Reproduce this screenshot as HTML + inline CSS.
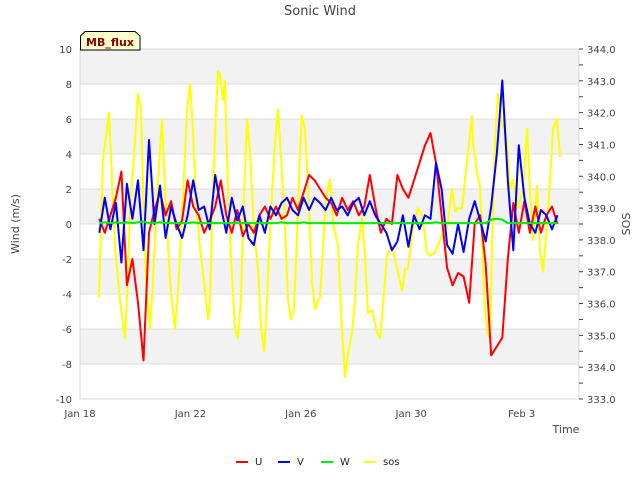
<!DOCTYPE html>
<html><head><meta charset="utf-8"><style>
html,body{margin:0;padding:0;background:#fff;}
svg{display:block;font-family:"DejaVu Sans","Liberation Sans",sans-serif;}
</style></head><body>
<svg id="chart" width="640" height="480" viewBox="0 0 640 480">
<g id="bands"></g>
<g id="grid"></g>
<g id="series"></g>
<g id="axes"></g>
<text x="320" y="15" text-anchor="middle" font-size="13" fill="#444">Sonic Wind</text>
<text transform="translate(19,224) rotate(-90)" text-anchor="middle" font-size="11" fill="#444">Wind (m/s)</text>
<text transform="translate(630,224) rotate(-90)" text-anchor="middle" font-size="11" fill="#444">SOS</text>
<text x="566" y="433" text-anchor="middle" font-size="11" fill="#444">Time</text>
<g>
<path d="M80.5,50 L80.5,36 L85,31.5 L135,31.5 L140,36 L140,50 Z" fill="#ffffcc" stroke="#000" stroke-width="1"/>
<text x="110" y="46" text-anchor="middle" font-size="11" font-weight="bold" fill="#8b0000">MB_flux</text>
</g>
<g id="legend"></g>
</svg>
<script>
// ---- data ----
const uvStart = 0.7;   // days since Jan 18
const uvStep = 0.2;
const uValues = [0.3,-0.5,0.5,1.5,3.0,-3.5,-2.0,-4.5,-7.8,-0.5,0.8,1.8,0.5,1.3,-0.3,0.2,2.5,1.0,0.5,-0.5,0.2,1.0,2.5,0.5,-0.5,0.8,-0.7,0.0,-0.5,0.5,1.0,0.3,1.0,0.3,0.5,1.5,0.8,1.8,2.8,2.5,2.0,1.5,1.2,0.5,1.5,0.8,1.3,0.5,1.0,2.8,1.0,-0.5,0.3,0.0,2.8,2.0,1.5,2.5,3.5,4.5,5.2,3.5,0.5,-2.5,-3.5,-2.8,-3.0,-4.5,0.0,0.5,-2.3,-7.5,-7.0,-6.5,-2.0,1.2,-0.5,1.3,-0.5,1.0,-0.5,0.5,1.0,0.0];
const vValues = [-0.5,1.5,-0.3,1.2,-2.2,2.3,0.3,2.5,-1.5,4.8,0.0,2.2,-0.8,1.0,0.0,-0.8,0.5,2.5,0.8,1.0,-0.3,2.8,1.0,-0.5,1.5,0.2,1.0,-0.8,-1.2,0.5,-0.5,1.0,0.5,1.2,1.5,0.8,0.5,1.5,0.8,1.5,1.2,0.8,1.5,0.8,1.0,0.5,1.2,1.5,0.5,1.3,0.5,0.0,-0.5,-1.5,-1.0,0.5,-1.3,0.5,-0.3,0.5,0.3,3.5,2.0,-1.2,-1.7,0.0,-1.6,0.3,1.3,0.2,-1.0,1.0,4.0,8.2,2.5,-1.5,4.5,1.5,0.0,-0.5,0.8,0.5,-0.3,0.5];
const wValues = [0.05,0.1,0.05,0.1,0.05,0.1,0.05,0.1,0.15,0.05,0.05,0.1,0.05,0.05,0.05,0.05,0.05,0.1,0.05,0.05,0.05,0.05,0.05,0.05,0.05,0.05,0.05,0.05,0.05,0.05,0.05,0.05,0.05,0.1,0.05,0.05,0.05,0.1,0.05,0.05,0.05,0.05,0.05,0.05,0.05,0.05,0.05,0.05,0.05,0.05,0.05,0.05,0.05,0.05,0.05,0.05,0.05,0.05,0.05,0.05,0.05,0.1,0.05,0.05,0.05,0.05,0.05,0.05,0.05,0.05,0.05,0.25,0.3,0.25,0.05,0.05,0.05,0.05,0.05,0.05,0.05,0.05,0.05,0.05];
const sosTimes = [0.69,0.83,1.05,1.16,1.27,1.45,1.63,1.70,1.81,1.99,2.10,2.21,2.28,2.39,2.54,2.64,2.79,2.97,3.08,3.26,3.44,3.55,3.73,3.88,3.99,4.09,4.20,4.35,4.53,4.64,4.71,4.82,4.93,5.00,5.07,5.18,5.25,5.36,5.47,5.62,5.72,5.83,5.94,6.05,6.16,6.30,6.45,6.56,6.67,6.78,6.88,7.07,7.17,7.25,7.43,7.54,7.64,7.75,7.86,7.97,8.04,8.15,8.26,8.41,8.51,8.62,8.70,8.80,8.91,9.06,9.17,9.35,9.49,9.60,9.71,9.86,9.96,10.07,10.22,10.33,10.43,10.58,10.76,10.87,10.98,11.12,11.30,11.49,11.67,11.78,11.88,12.07,12.25,12.39,12.57,12.68,12.86,13.04,13.15,13.30,13.48,13.59,13.70,13.84,13.95,14.06,14.20,14.24,14.38,14.49,14.57,14.60,14.67,14.75,14.86,14.93,15.04,15.14,15.29,15.47,15.58,15.69,15.87,16.05,16.20,16.30,16.41,16.56,16.67,16.78,16.92,17.03,17.14,17.28,17.39];
const sosValues = [336.2,340.5,342.0,339.9,337.7,336.1,334.9,336.1,338.9,341.1,342.6,342.1,339.9,336.7,335.2,336.7,339.3,341.8,339.6,336.7,335.2,336.4,339.3,342.1,342.9,341.5,339.3,337.7,336.4,335.5,336.1,339.6,342.1,343.3,343.2,342.4,343.0,339.6,337.4,335.2,334.9,336.1,339.3,341.8,340.8,338.3,337.1,335.2,334.5,336.1,338.3,341.1,342.1,341.1,338.3,336.1,335.5,335.8,338.0,340.8,341.9,341.5,339.6,336.7,335.8,336.1,336.2,337.7,339.3,339.9,338.5,337.8,335.2,333.7,334.4,335.1,336.1,337.8,338.7,337.5,335.7,335.8,335.1,334.9,335.9,337.5,337.8,337.1,336.4,337.1,337.1,338.4,339.0,338.8,337.6,337.5,337.6,338.0,338.2,338.4,339.6,338.9,339.0,339.0,339.9,340.8,341.9,341.1,340.1,339.7,338.0,337.1,335.9,335.1,334.9,338.0,341.1,342.6,341.7,341.1,339.6,339.9,339.0,339.6,341.5,339.6,338.0,339.7,337.6,337.0,338.5,339.9,341.5,341.8,340.6,339.3];
const leftTicks = [10,8,6,4,2,0,-2,-4,-6,-8,-10];
const rightTicks = [344,343,342,341,340,339,338,337,336,335,334,333];
const xTickDays = [0,4,8,12,16];
const xTickLabels = ["Jan 18","Jan 22","Jan 26","Jan 30","Feb 3"];
const legendNames = ["U","V","W","sos"];
const legendColors = ["#ff0000","#0000ff","#00ee00","#ffff00"];

// ---- scales ----
const PL=80, PR=579, PT=49, PB=399;
const xs = d => PL + d*27.6;
const yl = v => PT + (10 - v)/20*(PB-PT);
const yr = v => PB - (v-333)/11*(PB-PT);
const NS="http://www.w3.org/2000/svg";
function mk(tag, attrs, parent){const e=document.createElementNS(NS,tag);for(const k in attrs)e.setAttribute(k,attrs[k]);parent.appendChild(e);return e;}

const bands=document.getElementById('bands');
const rb=mk('rect',{x:PL,y:PT,width:PR-PL,height:PB-PT,fill:'#fff'},bands);


for(let v=10; v>-10; v-=4){
  const r=mk('rect',{x:PL,y:yl(v),width:PR-PL,height:yl(v-2)-yl(v),fill:'#f2f2f2'},bands);
  
  
}
const grid=document.getElementById('grid');
const axes=document.getElementById('axes');
leftTicks.forEach(v=>{
  const l=mk('line',{x1:PL,x2:PR,y1:yl(v),y2:yl(v),stroke:'#dcdcdc','stroke-width':1},grid);
  
  
  const t=mk('text',{x:72,y:yl(v)+4,'text-anchor':'end','font-size':10,fill:'#444'},axes);
  t.textContent=String(v);
  
  
});
const br=mk('rect',{x:PL,y:PT,width:PR-PL,height:PB-PT,fill:'none',stroke:'#d8d8d8','stroke-width':1},grid);


rightTicks.forEach(v=>{
  const t=mk('text',{x:587,y:yr(v)+4,'font-size':10,fill:'#444'},axes);
  t.textContent=v.toFixed(1);
  
  
  const mj=mk('line',{x1:PR,x2:PR+4,y1:yr(v),y2:yr(v),stroke:'#444','stroke-width':1},axes);
  
  
  if(v<344){
    const m=mk('line',{x1:PR,x2:PR+4,y1:yr(v+0.5),y2:yr(v+0.5),stroke:'#444','stroke-width':1},axes);
    
    
  }
});
xTickDays.forEach((d,i)=>{
  const t=mk('text',{x:xs(d),y:417,'text-anchor':'middle','font-size':10,fill:'#444'},axes);
  t.textContent=xTickLabels[i];
  
  
});

const series=document.getElementById('series');
function uvPts(vals){return vals.map((v,i)=>xs(uvStart+i*uvStep).toFixed(1)+','+yl(v).toFixed(1)).join(' ');}
const sosLine=mk('polyline',{points:sosValues.map((v,i)=>xs(sosTimes[i]).toFixed(1)+','+yr(v).toFixed(1)).join(' '),fill:'none',stroke:'#ffff00','stroke-width':2,'stroke-linejoin':'round'},series);


const uLine=mk('polyline',{points:uvPts(uValues),fill:'none',stroke:'#ff0000','stroke-width':2,'stroke-linejoin':'round'},series);


const vLine=mk('polyline',{points:uvPts(vValues),fill:'none',stroke:'#0000ff','stroke-width':2,'stroke-linejoin':'round'},series);


const wLine=mk('polyline',{points:uvPts(wValues),fill:'none',stroke:'#00ee00','stroke-width':2,'stroke-linejoin':'round'},series);



const legend=document.getElementById('legend');
const legX=[236,278,321,364];
legendNames.forEach((n,i)=>{
  const g=mk('g',{},legend);
  
  
  mk('line',{x1:legX[i],x2:legX[i]+12,y1:462,y2:462,stroke:legendColors[i],'stroke-width':2},g);
  const t=mk('text',{x:legX[i]+19,y:465,'font-size':10,fill:'#222'},g);
  t.textContent=n;
});
</script>
</body></html>
